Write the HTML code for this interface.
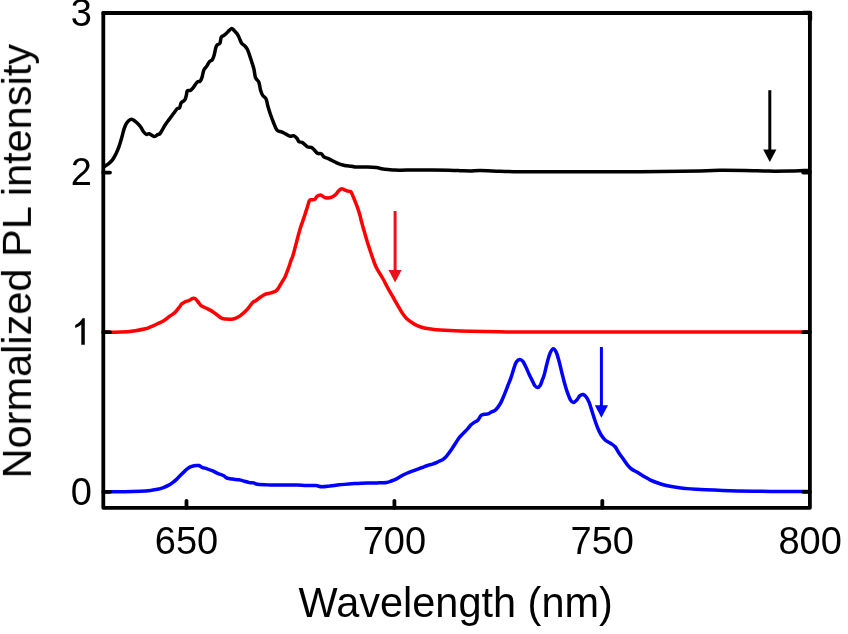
<!DOCTYPE html>
<html><head><meta charset="utf-8"><style>
html,body{margin:0;padding:0;background:#fff;}
svg{display:block;}
text{font-family:"Liberation Sans",sans-serif;fill:#000;}
.t{opacity:0.999;}
</style></head><body>
<svg width="848" height="634" viewBox="0 0 848 634">
<rect width="848" height="634" fill="#fff"/>
<g fill="none" stroke-width="3.5" stroke-linejoin="round" stroke-linecap="butt">
<path d="M103.80,166.80 C104.43,166.40 106.18,165.52 107.60,164.40 C109.02,163.28 110.88,161.92 112.30,160.10 C113.72,158.28 115.00,155.70 116.10,153.50 C117.20,151.30 117.95,149.58 118.90,146.90 C119.85,144.22 120.93,140.40 121.80,137.40 C122.67,134.40 123.32,131.27 124.10,128.90 C124.88,126.53 125.47,124.77 126.50,123.20 C127.53,121.63 129.20,120.05 130.30,119.50 C131.40,118.95 132.00,119.35 133.10,119.90 C134.20,120.45 135.63,121.62 136.90,122.80 C138.17,123.98 139.60,125.50 140.70,127.00 C141.80,128.50 142.55,130.57 143.50,131.80 C144.45,133.03 145.45,134.08 146.40,134.40 C147.35,134.72 147.95,133.35 149.20,133.70 C150.45,134.05 152.48,136.35 153.90,136.50 C155.32,136.65 156.67,135.10 157.70,134.60 C158.73,134.10 159.18,134.55 160.10,133.50 C161.02,132.45 162.33,129.77 163.20,128.30 C164.07,126.83 164.27,126.23 165.30,124.70 C166.33,123.17 168.03,120.97 169.40,119.10 C170.77,117.23 172.22,115.22 173.50,113.50 C174.78,111.78 176.08,109.75 177.10,108.80 C178.12,107.85 178.92,108.82 179.60,107.80 C180.28,106.78 180.35,103.98 181.20,102.70 C182.05,101.42 183.85,101.30 184.70,100.10 C185.55,98.90 185.87,97.03 186.30,95.50 C186.73,93.97 186.62,91.75 187.30,90.90 C187.98,90.05 189.37,91.00 190.40,90.40 C191.43,89.80 192.38,88.67 193.50,87.30 C194.62,85.93 196.00,83.22 197.10,82.20 C198.20,81.18 199.28,82.00 200.10,81.20 C200.92,80.40 201.38,79.25 202.00,77.40 C202.62,75.55 203.03,71.93 203.80,70.10 C204.57,68.27 205.65,67.82 206.60,66.40 C207.55,64.98 208.55,62.72 209.50,61.60 C210.45,60.48 211.52,60.80 212.30,59.70 C213.08,58.60 213.65,56.88 214.20,55.00 C214.75,53.12 215.13,50.05 215.60,48.40 C216.07,46.75 216.28,45.97 217.00,45.10 C217.72,44.23 219.18,44.55 219.90,43.20 C220.62,41.85 220.67,38.27 221.30,37.00 C221.93,35.73 222.83,36.23 223.70,35.60 C224.57,34.97 225.57,34.07 226.50,33.20 C227.43,32.33 228.43,31.18 229.30,30.40 C230.17,29.62 230.90,28.50 231.70,28.50 C232.50,28.50 233.15,29.45 234.10,30.40 C235.05,31.35 236.47,32.78 237.40,34.20 C238.33,35.62 239.00,37.40 239.70,38.90 C240.40,40.40 240.73,42.02 241.60,43.20 C242.47,44.38 243.95,44.98 244.90,46.00 C245.85,47.02 246.58,47.95 247.30,49.30 C248.02,50.65 248.48,52.05 249.20,54.10 C249.92,56.15 250.82,59.12 251.60,61.60 C252.38,64.08 253.25,66.32 253.90,69.00 C254.55,71.68 254.68,75.50 255.50,77.70 C256.32,79.90 257.97,80.17 258.80,82.20 C259.63,84.23 259.85,87.70 260.50,89.90 C261.15,92.10 261.78,93.93 262.70,95.40 C263.62,96.87 265.17,97.03 266.00,98.70 C266.83,100.37 266.97,102.82 267.70,105.40 C268.43,107.98 269.40,111.27 270.40,114.20 C271.40,117.13 272.60,120.33 273.70,123.00 C274.80,125.67 275.70,128.72 277.00,130.20 C278.30,131.68 280.02,131.25 281.50,131.90 C282.98,132.55 284.43,133.37 285.90,134.10 C287.37,134.83 289.02,136.03 290.30,136.30 C291.58,136.57 292.47,135.33 293.60,135.70 C294.73,136.07 296.22,137.50 297.10,138.50 C297.98,139.50 298.07,141.05 298.90,141.70 C299.73,142.35 301.10,141.92 302.10,142.40 C303.10,142.88 303.95,143.83 304.90,144.60 C305.85,145.37 306.73,146.53 307.80,147.00 C308.87,147.47 310.23,146.92 311.30,147.40 C312.37,147.88 313.13,148.90 314.20,149.90 C315.27,150.90 316.52,152.75 317.70,153.40 C318.88,154.05 320.23,153.20 321.30,153.80 C322.37,154.40 323.03,156.23 324.10,157.00 C325.17,157.77 326.40,157.82 327.70,158.40 C329.00,158.98 330.48,159.78 331.90,160.50 C333.32,161.22 334.77,162.05 336.20,162.70 C337.63,163.35 339.08,163.93 340.50,164.40 C341.92,164.87 343.28,165.25 344.70,165.50 C346.12,165.75 347.28,165.67 349.00,165.90 C350.72,166.13 352.83,166.70 355.00,166.90 C357.17,167.10 359.88,167.10 362.00,167.10 C364.12,167.10 365.33,166.82 367.70,166.90 C370.07,166.98 373.37,167.20 376.20,167.60 C379.03,168.00 381.87,168.90 384.70,169.30 C387.53,169.70 390.65,169.85 393.20,170.00 C395.75,170.15 395.37,170.22 400.00,170.20 C404.63,170.18 412.83,169.90 421.00,169.90 C429.17,169.90 442.17,170.05 449.00,170.20 C455.83,170.35 458.33,170.67 462.00,170.80 C465.67,170.93 468.00,171.03 471.00,171.00 C474.00,170.97 475.17,170.57 480.00,170.60 C484.83,170.63 493.33,171.02 500.00,171.20 C506.67,171.38 506.67,171.62 520.00,171.70 C533.33,171.78 560.00,171.68 580.00,171.70 C600.00,171.72 620.00,171.92 640.00,171.80 C660.00,171.68 686.67,171.25 700.00,171.00 C713.33,170.75 712.50,170.38 720.00,170.30 C727.50,170.22 736.83,170.37 745.00,170.50 C753.17,170.63 761.50,171.02 769.00,171.10 C776.50,171.18 784.17,171.08 790.00,171.00 C795.83,170.92 800.67,170.67 804.00,170.60 C807.33,170.53 809.00,170.60 810.00,170.60" stroke="#000"/>
<path d="M103.80,332.10 C106.70,332.10 115.93,332.33 121.20,332.10 C126.47,331.87 131.38,331.25 135.40,330.70 C139.42,330.15 142.87,329.38 145.30,328.80 C147.73,328.22 148.03,328.00 150.00,327.20 C151.97,326.40 154.73,325.13 157.10,324.00 C159.47,322.87 162.08,321.70 164.20,320.40 C166.32,319.10 168.03,317.50 169.80,316.20 C171.57,314.90 173.27,314.02 174.80,312.60 C176.33,311.18 177.83,309.17 179.00,307.70 C180.17,306.23 180.73,304.80 181.80,303.80 C182.87,302.80 184.22,302.23 185.40,301.70 C186.58,301.17 187.72,301.13 188.90,300.60 C190.08,300.07 191.43,298.80 192.50,298.50 C193.57,298.20 194.37,298.22 195.30,298.80 C196.23,299.38 197.15,300.87 198.10,302.00 C199.05,303.13 199.82,304.65 201.00,305.60 C202.18,306.55 203.83,307.03 205.20,307.70 C206.57,308.37 207.82,308.85 209.20,309.60 C210.58,310.35 212.08,311.23 213.50,312.20 C214.92,313.17 216.28,314.38 217.70,315.40 C219.12,316.42 220.58,317.70 222.00,318.30 C223.42,318.90 224.67,318.83 226.20,319.00 C227.73,319.17 229.67,319.42 231.20,319.30 C232.73,319.18 233.98,318.83 235.40,318.30 C236.82,317.77 238.28,317.05 239.70,316.10 C241.12,315.15 242.60,313.77 243.90,312.60 C245.20,311.43 246.43,310.28 247.50,309.10 C248.57,307.92 249.37,306.68 250.30,305.50 C251.23,304.32 252.15,302.82 253.10,302.00 C254.05,301.18 254.93,301.32 256.00,300.60 C257.07,299.88 258.33,298.53 259.50,297.70 C260.67,296.87 261.92,296.22 263.00,295.60 C264.08,294.98 264.70,294.45 266.00,294.00 C267.30,293.55 269.22,293.35 270.80,292.90 C272.38,292.45 274.32,291.97 275.50,291.30 C276.68,290.63 277.12,289.95 277.90,288.90 C278.68,287.85 279.42,286.32 280.20,285.00 C280.98,283.68 281.80,282.32 282.60,281.00 C283.40,279.68 284.35,278.42 285.00,277.10 C285.65,275.78 285.98,274.42 286.50,273.10 C287.02,271.78 287.57,270.63 288.10,269.20 C288.63,267.77 289.17,266.08 289.70,264.50 C290.23,262.92 290.77,261.15 291.30,259.70 C291.83,258.25 292.05,258.65 292.90,255.80 C293.75,252.95 295.23,246.98 296.40,242.60 C297.57,238.22 298.90,232.92 299.90,229.50 C300.90,226.08 301.57,224.57 302.40,222.10 C303.23,219.63 304.08,217.18 304.90,214.70 C305.72,212.22 306.55,209.55 307.30,207.20 C308.05,204.85 308.70,201.83 309.40,200.60 C310.10,199.37 310.60,200.00 311.50,199.80 C312.40,199.60 313.83,200.02 314.80,199.40 C315.77,198.78 316.33,196.85 317.30,196.10 C318.27,195.35 319.65,194.83 320.60,194.90 C321.55,194.97 322.18,196.02 323.00,196.50 C323.82,196.98 324.40,197.58 325.50,197.80 C326.60,198.02 328.37,198.02 329.60,197.80 C330.83,197.58 331.80,197.13 332.90,196.50 C334.00,195.87 335.23,194.97 336.20,194.00 C337.17,193.03 337.80,191.58 338.70,190.70 C339.60,189.82 340.63,188.83 341.60,188.70 C342.57,188.57 343.47,189.50 344.50,189.90 C345.53,190.30 346.77,190.82 347.80,191.10 C348.83,191.38 349.87,190.83 350.70,191.60 C351.53,192.37 352.05,194.05 352.80,195.70 C353.55,197.35 354.38,199.43 355.20,201.50 C356.02,203.57 356.90,205.77 357.70,208.10 C358.50,210.43 359.38,213.30 360.00,215.50 C360.62,217.70 360.70,218.67 361.40,221.30 C362.10,223.93 363.25,227.98 364.20,231.30 C365.15,234.62 366.15,238.13 367.10,241.20 C368.05,244.27 368.97,246.87 369.90,249.70 C370.83,252.53 371.75,255.48 372.70,258.20 C373.65,260.92 374.53,263.63 375.60,266.00 C376.67,268.37 377.80,270.15 379.10,272.40 C380.40,274.65 382.15,277.27 383.40,279.50 C384.65,281.73 385.55,283.83 386.60,285.80 C387.65,287.77 388.65,289.47 389.70,291.30 C390.75,293.13 391.85,294.95 392.90,296.80 C393.95,298.65 394.95,300.55 396.00,302.40 C397.05,304.25 398.02,305.93 399.20,307.90 C400.38,309.87 401.78,312.37 403.10,314.20 C404.42,316.03 405.65,317.52 407.10,318.90 C408.55,320.28 410.10,321.38 411.80,322.50 C413.50,323.62 415.20,324.68 417.30,325.60 C419.40,326.52 421.90,327.40 424.40,328.00 C426.90,328.60 429.67,328.87 432.30,329.20 C434.93,329.53 437.25,329.77 440.20,330.00 C443.15,330.23 445.03,330.38 450.00,330.60 C454.97,330.82 461.67,331.10 470.00,331.30 C478.33,331.50 486.67,331.68 500.00,331.80 C513.33,331.92 498.33,331.97 550.00,332.00 C601.67,332.03 766.67,332.00 810.00,332.00" stroke="#ff0000"/>
<path d="M103.80,491.70 C107.33,491.70 118.97,491.78 125.00,491.70 C131.03,491.62 135.73,491.42 140.00,491.20 C144.27,490.98 147.65,490.72 150.60,490.40 C153.55,490.08 155.57,489.77 157.70,489.30 C159.83,488.83 161.63,488.25 163.40,487.60 C165.17,486.95 166.77,486.23 168.30,485.40 C169.83,484.57 171.18,483.65 172.60,482.60 C174.02,481.55 175.40,480.40 176.80,479.10 C178.20,477.80 179.58,476.22 181.00,474.80 C182.42,473.38 184.00,471.78 185.30,470.60 C186.60,469.42 187.62,468.42 188.80,467.70 C189.98,466.98 191.10,466.65 192.40,466.30 C193.70,465.95 195.47,465.73 196.60,465.60 C197.73,465.47 198.28,465.20 199.20,465.50 C200.12,465.80 200.80,466.85 202.10,467.40 C203.40,467.95 205.23,468.22 207.00,468.80 C208.77,469.38 210.93,470.13 212.70,470.90 C214.47,471.67 215.83,472.63 217.60,473.40 C219.37,474.17 221.77,474.73 223.30,475.50 C224.83,476.27 225.27,477.40 226.80,478.00 C228.33,478.60 230.48,478.80 232.50,479.10 C234.52,479.40 236.90,479.45 238.90,479.80 C240.90,480.15 242.73,480.73 244.50,481.20 C246.27,481.67 247.95,482.32 249.50,482.60 C251.05,482.88 252.47,482.63 253.80,482.90 C255.13,483.17 254.98,483.87 257.50,484.20 C260.02,484.53 265.43,484.75 268.90,484.90 C272.37,485.05 275.17,485.07 278.30,485.10 C281.43,485.13 284.55,485.10 287.70,485.10 C290.85,485.10 294.05,485.02 297.20,485.10 C300.35,485.18 303.47,485.52 306.60,485.60 C309.73,485.68 313.48,485.40 316.00,485.60 C318.52,485.80 319.37,486.73 321.70,486.80 C324.03,486.87 327.05,486.33 330.00,486.00 C332.95,485.67 336.25,485.15 339.40,484.80 C342.55,484.45 345.75,484.13 348.90,483.90 C352.05,483.67 355.17,483.57 358.30,483.40 C361.43,483.23 364.55,482.98 367.70,482.90 C370.85,482.82 374.05,482.97 377.20,482.90 C380.35,482.83 384.25,482.82 386.60,482.50 C388.95,482.18 389.73,481.55 391.30,481.00 C392.87,480.45 394.55,479.90 396.00,479.20 C397.45,478.50 398.55,477.63 400.00,476.80 C401.45,475.97 403.12,474.97 404.70,474.20 C406.28,473.43 407.65,472.93 409.50,472.20 C411.35,471.47 413.70,470.58 415.80,469.80 C417.90,469.02 420.13,468.22 422.10,467.50 C424.07,466.78 425.77,466.10 427.60,465.50 C429.43,464.90 431.27,464.57 433.10,463.90 C434.93,463.23 436.88,462.28 438.60,461.50 C440.32,460.72 441.95,460.25 443.40,459.20 C444.85,458.15 445.98,456.78 447.30,455.20 C448.62,453.62 449.98,451.60 451.30,449.70 C452.62,447.80 454.02,445.63 455.20,443.80 C456.38,441.97 457.12,440.40 458.40,438.70 C459.68,437.00 461.37,435.23 462.90,433.60 C464.43,431.97 466.28,430.33 467.60,428.90 C468.92,427.47 469.75,426.05 470.80,425.00 C471.85,423.95 472.72,423.40 473.90,422.60 C475.08,421.80 476.72,421.38 477.90,420.20 C479.08,419.02 479.95,416.48 481.00,415.50 C482.05,414.52 483.02,414.57 484.20,414.30 C485.38,414.03 486.92,414.28 488.10,413.90 C489.28,413.52 490.25,412.52 491.30,412.00 C492.35,411.48 493.35,411.53 494.40,410.80 C495.45,410.07 496.55,408.92 497.60,407.60 C498.65,406.28 499.60,405.00 500.70,402.90 C501.80,400.80 503.00,397.90 504.20,395.00 C505.40,392.10 506.77,388.40 507.90,385.50 C509.03,382.60 509.95,380.63 511.00,377.60 C512.05,374.57 513.28,369.93 514.20,367.30 C515.12,364.67 515.58,363.10 516.50,361.80 C517.42,360.50 518.63,359.57 519.70,359.50 C520.77,359.43 521.85,360.10 522.90,361.40 C523.95,362.70 524.95,365.13 526.00,367.30 C527.05,369.47 528.15,372.17 529.20,374.40 C530.25,376.63 531.38,378.85 532.30,380.70 C533.22,382.55 533.85,384.38 534.70,385.50 C535.55,386.62 536.48,387.40 537.40,387.40 C538.32,387.40 539.33,386.87 540.20,385.50 C541.07,384.13 541.95,380.90 542.60,379.20 C543.25,377.50 543.40,377.78 544.10,375.30 C544.80,372.82 545.88,367.80 546.80,364.30 C547.72,360.80 548.58,356.88 549.60,354.30 C550.62,351.72 551.80,349.17 552.90,348.80 C554.00,348.43 555.18,350.07 556.20,352.10 C557.22,354.13 558.08,357.68 559.00,361.00 C559.92,364.32 560.78,368.33 561.70,372.00 C562.62,375.67 563.58,379.68 564.50,383.00 C565.42,386.32 566.18,389.03 567.20,391.90 C568.22,394.77 569.58,398.45 570.60,400.20 C571.62,401.95 572.30,402.40 573.30,402.40 C574.30,402.40 575.50,401.32 576.60,400.20 C577.70,399.08 578.78,396.65 579.90,395.70 C581.02,394.75 582.18,394.20 583.30,394.50 C584.42,394.80 585.58,396.05 586.60,397.50 C587.62,398.95 588.48,400.87 589.40,403.20 C590.32,405.53 591.18,408.65 592.10,411.50 C593.02,414.35 593.97,417.55 594.90,420.30 C595.83,423.05 596.68,425.60 597.70,428.00 C598.72,430.40 599.72,432.67 601.00,434.70 C602.28,436.73 603.75,438.73 605.40,440.20 C607.05,441.67 609.25,442.37 610.90,443.50 C612.55,444.63 613.93,445.37 615.30,447.00 C616.67,448.63 617.77,451.30 619.10,453.30 C620.43,455.30 621.92,457.08 623.30,459.00 C624.68,460.92 626.03,463.13 627.40,464.80 C628.77,466.47 629.85,467.75 631.50,469.00 C633.15,470.25 635.23,471.07 637.30,472.30 C639.37,473.53 641.70,475.10 643.90,476.40 C646.10,477.70 648.17,479.00 650.50,480.10 C652.83,481.20 655.28,482.10 657.90,483.00 C660.52,483.90 663.43,484.82 666.20,485.50 C668.97,486.18 671.37,486.62 674.50,487.10 C677.63,487.58 681.42,488.03 685.00,488.40 C688.58,488.77 688.50,488.92 696.00,489.30 C703.50,489.68 717.67,490.35 730.00,490.70 C742.33,491.05 756.67,491.25 770.00,491.40 C783.33,491.55 803.33,491.57 810.00,491.60" stroke="#0000ff"/>
</g>
<line x1="769.8" y1="90.2" x2="769.8" y2="151" stroke="#000" stroke-width="3"/><path d="M763.1999999999999,149.5 L776.4,149.5 L769.8,162 Z" fill="#000"/>
<line x1="395.1" y1="211" x2="395.1" y2="271.5" stroke="#e8141c" stroke-width="3"/><path d="M388.5,270.0 L401.70000000000005,270.0 L395.1,282.5 Z" fill="#e8141c"/>
<line x1="601.4" y1="347" x2="601.4" y2="406.8" stroke="#0000ff" stroke-width="3"/><path d="M594.8,405.3 L608.0,405.3 L601.4,417.8 Z" fill="#0000ff"/>
<rect x="103.3" y="13" width="706.6" height="494.8" fill="none" stroke="#000" stroke-width="3.8" stroke-linejoin="round"/>
<g stroke="#000" stroke-width="3.8" stroke-linecap="round"><line x1="103.3" y1="491.8" x2="110.0" y2="491.8"/><line x1="809.9" y1="491.8" x2="803.1999999999999" y2="491.8"/><line x1="103.3" y1="332.2" x2="110.0" y2="332.2"/><line x1="809.9" y1="332.2" x2="803.1999999999999" y2="332.2"/><line x1="103.3" y1="172.6" x2="110.0" y2="172.6"/><line x1="809.9" y1="172.6" x2="803.1999999999999" y2="172.6"/><line x1="103.3" y1="13.0" x2="110.0" y2="13.0"/><line x1="809.9" y1="13.0" x2="803.1999999999999" y2="13.0"/><line x1="186.5" y1="507.8" x2="186.5" y2="500.8"/><line x1="394.4" y1="507.8" x2="394.4" y2="500.8"/><line x1="602.3" y1="507.8" x2="602.3" y2="500.8"/><line x1="810" y1="13" x2="810" y2="19.5" stroke-width="4.3"/><line x1="803" y1="12.8" x2="810" y2="12.8" stroke-width="4.3"/></g>
<g class="t"><g font-size="38"><text x="92" y="504.6" text-anchor="end">0</text><text x="92" y="185.4" text-anchor="end">2</text><text x="92" y="25.8" text-anchor="end">3</text><path d="M81.3,344.8 L84.8,344.8 L84.8,318.3 L82.4,318.3 C81.2,320.8 79,323.2 75.2,324.9 L75.2,328.1 C77.6,327.2 79.8,325.9 81.3,324.5 Z" fill="#000"/><text x="186.5" y="554.3" text-anchor="middle">650</text><text x="394.4" y="554.3" text-anchor="middle">700</text><text x="602.3" y="554.3" text-anchor="middle">750</text><text x="810.2" y="554.3" text-anchor="middle">800</text></g>
<text transform="translate(455.7,617.5) scale(1,1.035)" x="0" y="0" font-size="41.5" text-anchor="middle">Wavelength (nm)</text>
<text transform="translate(30.9,261.2) rotate(-90)" x="0" y="0" font-size="41.5" text-anchor="middle">Normalized PL intensity</text></g>
</svg>
</body></html>
